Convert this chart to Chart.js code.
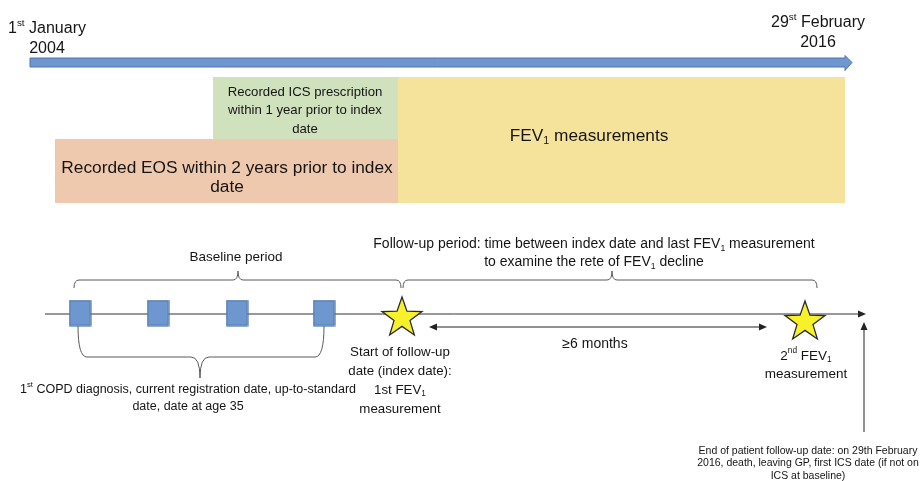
<!DOCTYPE html>
<html>
<head>
<meta charset="utf-8">
<script src="https://cdn.jsdelivr.net/npm/chart.js@4"></script>
<style>
  html, body { margin: 0; padding: 0; background: #fff; }
  canvas { display: block; }
</style>
</head>
<body>
<canvas id="studyChart" width="923" height="481"></canvas>
<script>
// schematic timeline, x in diagram units (study window drawn left -> right)
const studyStart = 30;
const studyEnd = 852;
const startLabel = ['1^{st} January', '2004'];
const endLabel = ['29^{st} February', '2016'];

// data windows relative to the index date
const indexDate = 398;
const icsWindow = [213, indexDate];
const eosWindow = [55, indexDate];
const fevWindow = [indexDate, 845];
const icsText = ['Recorded ICS prescription', 'within 1 year prior to index', 'date'];
const eosText = ['Recorded EOS within 2 years prior to index', 'date'];
const fevText = ['FEV_{1} measurements'];

// patient timeline events
const baselineEvents = [80, 158, 237, 324];
const fev1Events = [402, 805];
const followUpEnd = 864;
const baselineText = ['Baseline period'];
const followUpText = ['Follow-up period: time between index date and last FEV_{1} measurement',
  'to examine the rete of FEV_{1} decline'];
const eventsText = ['1^{st} COPD diagnosis, current registration date, up-to-standard',
  'date, date at age 35'];
const indexText = ['Start of follow-up', 'date (index date):', '1st FEV_{1}', 'measurement'];
const secondText = ['2^{nd} FEV_{1}', 'measurement'];
const gapText = ['≥6 months'];
const endText = ['End of patient follow-up date: on 29th February',
  '2016, death, leaving GP, first ICS date (if not on', 'ICS at baseline)'];

const FONT = '"Liberation Sans", Arial, Helvetica, sans-serif';
const TEXT_COLOR = '#151515';

function makeStar(r) {
  const c = document.createElement('canvas');
  const s = Math.ceil(r * 2 + 4);
  c.width = s; c.height = s;
  const g = c.getContext('2d');
  const cx = s / 2, cy = s / 2 + 1;
  g.beginPath();
  for (let i = 0; i < 10; i++) {
    const rad = i % 2 === 0 ? r : r * 0.4;
    const a = -Math.PI / 2 + i * Math.PI / 5;
    const px = cx + rad * Math.cos(a), py = cy + rad * Math.sin(a);
    if (i === 0) g.moveTo(px, py); else g.lineTo(px, py);
  }
  g.closePath();
  g.fillStyle = '#f7f12a';
  g.fill();
  g.lineWidth = 1.3;
  g.strokeStyle = '#2a2a2a';
  g.stroke();
  return c;
}

function makeBox(w, h) {
  const c = document.createElement('canvas');
  c.width = w + 2; c.height = h + 2;
  const g = c.getContext('2d');
  g.fillStyle = '#6f97cf';
  g.fillRect(1, 1, w, h);
  g.strokeStyle = '#4a72a8';
  g.lineWidth = 1.2;
  g.strokeRect(1, 1, w, h);
  return c;
}

// text with ^{sup} and _{sub} parts
function richLine(ctx, str, x, y, size, align) {
  const parts = str.split(/(\^\{[^}]*\}|_\{[^}]*\})/).filter(p => p.length);
  const segs = parts.map(p => {
    if (p.startsWith('^{')) return { t: p.slice(2, -1), s: size * 0.62, dy: -size * 0.38 };
    if (p.startsWith('_{')) return { t: p.slice(2, -1), s: size * 0.62, dy: size * 0.3 };
    return { t: p, s: size, dy: 0 };
  });
  let total = 0;
  segs.forEach(sg => {
    ctx.font = `${sg.s}px ${FONT}`;
    sg.w = ctx.measureText(sg.t).width;
    total += sg.w;
  });
  let cx = align === 'left' ? x : align === 'right' ? x - total : x - total / 2;
  ctx.textAlign = 'left';
  ctx.textBaseline = 'middle';
  ctx.fillStyle = TEXT_COLOR;
  segs.forEach(sg => {
    ctx.font = `${sg.s}px ${FONT}`;
    ctx.fillText(sg.t, cx, y + sg.dy);
    cx += sg.w;
  });
}

function richText(ctx, lines, x, y, size, lh, align) {
  lines.forEach((l, i) => richLine(ctx, l, x, y + i * lh, size, align || 'center'));
}

function brace(ctx, x1, x2, xm, yEdge, yFlat, yTip, r) {
  ctx.beginPath();
  ctx.moveTo(x1, yEdge);
  ctx.quadraticCurveTo(x1, yFlat, x1 + r, yFlat);
  ctx.lineTo(xm - r, yFlat);
  ctx.quadraticCurveTo(xm, yFlat, xm, yTip);
  ctx.moveTo(xm, yTip);
  ctx.quadraticCurveTo(xm, yFlat, xm + r, yFlat);
  ctx.lineTo(x2 - r, yFlat);
  ctx.quadraticCurveTo(x2, yFlat, x2, yEdge);
  ctx.stroke();
}

function arrowHead(ctx, x, y, dir, len, half) {
  // dir: angle in radians the arrow points to
  ctx.beginPath();
  ctx.moveTo(x, y);
  ctx.lineTo(x - len * Math.cos(dir) + half * Math.sin(dir), y - len * Math.sin(dir) - half * Math.cos(dir));
  ctx.lineTo(x - len * Math.cos(dir) - half * Math.sin(dir), y - len * Math.sin(dir) + half * Math.cos(dir));
  ctx.closePath();
  ctx.fill();
}

const diagramPlugin = {
  id: 'diagram',
  beforeDatasetsDraw(chart) {
    const { ctx } = chart;
    const X = v => chart.scales.x.getPixelForValue(v);
    const Y = v => chart.scales.y.getPixelForValue(v);
    ctx.save();

    // study period arrow
    const headStart = fevWindow[1];
    ctx.beginPath();
    ctx.moveTo(X(studyStart), Y(58));
    ctx.lineTo(X(headStart), Y(58));
    ctx.lineTo(X(headStart), Y(55.5));
    ctx.lineTo(X(studyEnd), Y(62.5));
    ctx.lineTo(X(headStart), Y(70.5));
    ctx.lineTo(X(headStart), Y(67));
    ctx.lineTo(X(studyStart), Y(67));
    ctx.closePath();
    ctx.fillStyle = '#6f96cf';
    ctx.fill();
    ctx.strokeStyle = '#4d76b0';
    ctx.lineWidth = 1;
    ctx.stroke();

    // data windows
    const rect = (win, y0, y1, color) => {
      ctx.fillStyle = color;
      ctx.fillRect(X(win[0]), Y(y0), X(win[1]) - X(win[0]), Y(y1) - Y(y0));
    };
    rect(fevWindow, 77, 203, '#f6e39b');
    rect(icsWindow, 77, 139, '#d0e1bd');
    rect(eosWindow, 139, 203, '#efc9ad');

    // braces
    ctx.strokeStyle = '#5a5a5a';
    ctx.lineWidth = 1;
    brace(ctx, X(74), X(fev1Events[0] - 1), X(238), Y(288), Y(280), Y(271), 5);
    brace(ctx, X(fev1Events[0] + 1), X(817), X(612), Y(288), Y(280), Y(271), 5);
    brace(ctx, X(baselineEvents[0] - 2), X(baselineEvents[3]), X(200), Y(326), Y(357), Y(378), 9);

    // timeline head, gap arrow, end arrow
    ctx.fillStyle = '#222';
    ctx.strokeStyle = '#222';
    arrowHead(ctx, X(followUpEnd + 2), Y(314), 0, 8, 3.5);
    ctx.beginPath();
    ctx.moveTo(X(432), Y(327));
    ctx.lineTo(X(764), Y(327));
    ctx.stroke();
    arrowHead(ctx, X(429), Y(327), Math.PI, 8, 3.5);
    arrowHead(ctx, X(767), Y(327), 0, 8, 3.5);
    ctx.beginPath();
    ctx.moveTo(X(followUpEnd), Y(432));
    ctx.lineTo(X(followUpEnd), Y(328));
    ctx.stroke();
    arrowHead(ctx, X(followUpEnd), Y(322), -Math.PI / 2, 8, 3.5);
    ctx.restore();
  },
  afterDatasetsDraw(chart) {
    const { ctx } = chart;
    const X = v => chart.scales.x.getPixelForValue(v);
    const Y = v => chart.scales.y.getPixelForValue(v);
    ctx.save();
    richText(ctx, startLabel, X(47), Y(29), 16, 20);
    richText(ctx, endLabel, X(818), Y(23), 16, 20);
    richText(ctx, icsText, X(305), Y(92), 13.2, 18.5);
    richText(ctx, eosText, X(227), Y(168), 17.3, 19);
    richText(ctx, fevText, X(589), Y(136), 17.3, 19);
    richText(ctx, baselineText, X(236), Y(257), 13.5, 18);
    richText(ctx, followUpText, X(594), Y(244), 14, 18);
    richText(ctx, eventsText, X(188), Y(390), 12.5, 17);
    richText(ctx, indexText, X(400), Y(352), 13.3, 19);
    richText(ctx, gapText, X(595), Y(344), 14, 18);
    richText(ctx, secondText, X(806), Y(356), 13.5, 18);
    richText(ctx, endText, X(808), Y(451), 10.5, 12.5);
    ctx.restore();
  }
};

new Chart(document.getElementById('studyChart'), {
  type: 'scatter',
  data: {
    datasets: [
      {
        label: 'FEV1 measurement',
        data: fev1Events.map((x, i) => ({ x, y: i === 0 ? 317 : 321 })),
        pointStyle: makeStar(21),
        pointRadius: 22
      },
      {
        label: 'Baseline events',
        data: baselineEvents.map(x => ({ x, y: 313 })),
        pointStyle: makeBox(21, 25),
        pointRadius: 13
      },
      {
        label: 'Timeline',
        data: [{ x: 45, y: 314 }, { x: followUpEnd - 2, y: 314 }],
        showLine: true,
        borderColor: '#333',
        borderWidth: 1,
        pointRadius: 0
      }
    ]
  },
  options: {
    responsive: false,
    animation: false,
    devicePixelRatio: 1,
    layout: { padding: 0, autoPadding: false },
    plugins: {
      legend: { display: false },
      tooltip: { enabled: false }
    },
    scales: {
      x: { type: 'linear', min: 0, max: 923, display: false },
      y: { type: 'linear', min: 0, max: 481, reverse: true, display: false }
    }
  },
  plugins: [diagramPlugin]
});
</script>
</body>
</html>
